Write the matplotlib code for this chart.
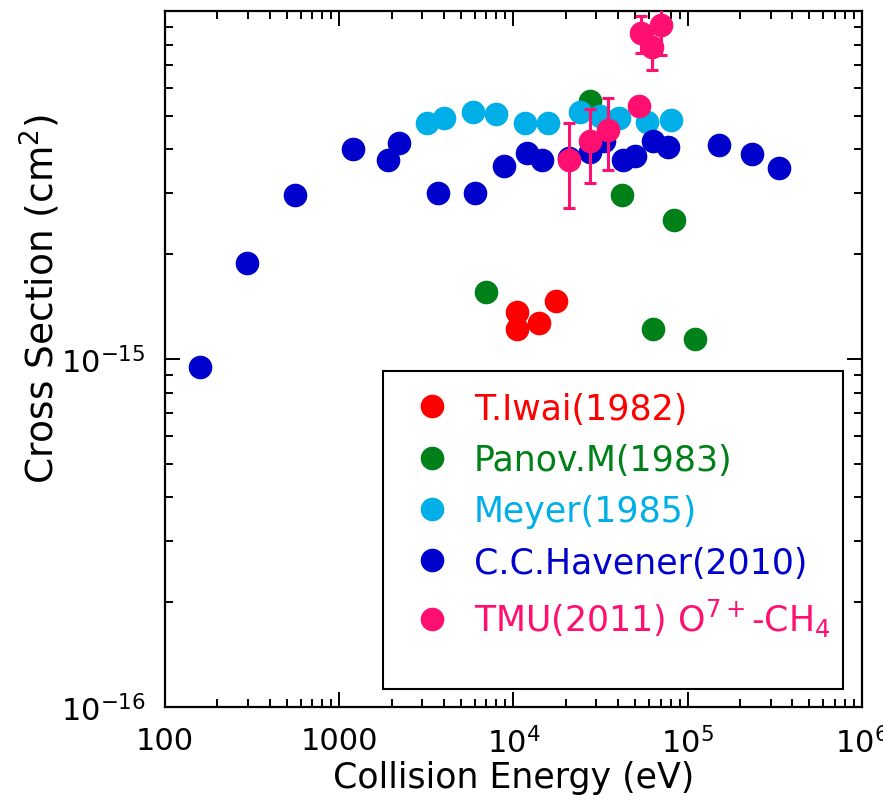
import numpy as np
import matplotlib.pyplot as plt
from matplotlib.patches import Rectangle
from matplotlib.ticker import LogLocator, NullFormatter

# data (energy in eV, cross section in cm^2)
iwai_E = [10500, 10500, 13980, 17600]
iwai_s = [1.36e-15, 1.22e-15, 1.27e-15, 1.47e-15]

panov_E = [7000, 27700, 42100, 63200, 83400, 111000]
panov_s = [1.56e-15, 5.50e-15, 2.95e-15, 1.22e-15, 2.50e-15, 1.14e-15]

meyer_E = [3190, 3980, 5870, 7960, 11700, 15800, 24000, 31600, 40300, 58700, 79900]
meyer_s = [4.75e-15, 4.93e-15, 5.11e-15, 5.06e-15, 4.75e-15, 4.75e-15,
           5.11e-15, 4.98e-15, 4.93e-15, 4.79e-15, 4.87e-15]

havener_E = [159, 295, 556, 1200, 1895, 2190, 3690, 5990, 8800, 11990, 14620,
             20980, 27700, 33340, 42700, 50240, 62950, 77450, 150700, 233300, 333500]
havener_s = [0.95e-15, 1.89e-15, 2.95e-15, 4.02e-15, 3.72e-15, 4.18e-15, 2.99e-15,
             2.99e-15, 3.58e-15, 3.91e-15, 3.72e-15, 3.77e-15, 3.93e-15, 4.22e-15,
             3.72e-15, 3.82e-15, 4.22e-15, 4.06e-15, 4.11e-15, 3.87e-15, 3.53e-15]

tmu_E = [20980, 27700, 34830, 52760, 54180, 69950, 62670]
tmu_s = [3.74e-15, 4.22e-15, 4.56e-15, 5.32e-15, 8.65e-15, 9.12e-15, 7.90e-15]
tmu_err = [1.02e-15, 1.02e-15, 1.06e-15, 0.0, 1.05e-15, 1.64e-15, 1.12e-15]

labels = ['T.Iwai(1982)', 'Panov.M(1983)', 'Meyer(1985)', 'C.C.Havener(2010)',
          'TMU(2011) O$^{7+}$-CH$_4$']
colors = ['#ff0000', '#008018', '#00aee8', '#0000cc', '#ff1070']

xticks = [100, 1000, 1e4, 1e5, 1e6]
xticklabels = ['100', '1000', '$10^4$', '$10^5$', '$10^6$']
yticks = [1e-16, 1e-15]
yticklabels = ['$10^{-16}$', '$10^{-15}$']

plt.rcParams['font.family'] = 'DejaVu Sans'
plt.rcParams['mathtext.fontset'] = 'dejavusans'

fig = plt.figure(figsize=(8.83, 8.03), dpi=100)
ax = fig.add_axes([0.1869, 0.1187, 0.7890, 0.8663])

ms = 16
p_green, = ax.plot(panov_E, panov_s, 'o', color=colors[1], ms=ms, zorder=2)
p_cyan, = ax.plot(meyer_E, meyer_s, 'o', color=colors[2], ms=ms, zorder=3)
p_blue, = ax.plot(havener_E, havener_s, 'o', color=colors[3], ms=ms, zorder=4)
p_red, = ax.plot(iwai_E, iwai_s, 'o', color=colors[0], ms=ms, zorder=5)
tmu = ax.errorbar(tmu_E, tmu_s, yerr=tmu_err, fmt='o', color=colors[4], ms=ms,
                  elinewidth=2.2, capsize=4.5, capthick=2.2, zorder=6)

ax.set_xscale('log')
ax.set_yscale('log')
ax.set_xlim(100, 1e6)
ax.set_ylim(1e-16, 1e-14)

ax.set_xticks(xticks)
ax.set_xticklabels(xticklabels)
ax.set_yticks(yticks)
ax.set_yticklabels(yticklabels)
ax.xaxis.set_minor_locator(LogLocator(base=10, subs=np.arange(2, 10)))
ax.yaxis.set_minor_locator(LogLocator(base=10, subs=np.arange(2, 10)))
ax.xaxis.set_minor_formatter(NullFormatter())
ax.yaxis.set_minor_formatter(NullFormatter())

ax.tick_params(which='both', direction='in', top=True, right=True, width=1.4,
               labelsize=22, pad=14)
ax.tick_params(which='major', length=11)
ax.tick_params(which='minor', length=6)
for sp in ax.spines.values():
    sp.set_linewidth(1.6)

ax.set_xlabel('Collision Energy (eV)', fontsize=25)
ax.set_ylabel('Cross Section (cm$^2$)', fontsize=27)
ax.xaxis.set_label_coords(0.5, -0.077)
ax.yaxis.set_label_coords(-0.148, 0.5875)

# legend frame drawn as its own box, legend entries placed inside it
frame = Rectangle((0.313, 0.0254), 0.66, 0.4576, transform=ax.transAxes,
                  facecolor='white', edgecolor='black', lw=1.5, zorder=7)
ax.add_patch(frame)

handles = [p_red, p_green, p_cyan, p_blue, tmu[0]]
leg = ax.legend(handles, labels, loc='upper left', bbox_to_anchor=(0.313, 0.483),
                borderaxespad=0, fontsize=25, labelcolor=colors, frameon=False,
                handlelength=1.61, handletextpad=0.41, borderpad=0.6,
                labelspacing=0.5)
leg.set_zorder(8)

fig.savefig('out.png', dpi=100)
